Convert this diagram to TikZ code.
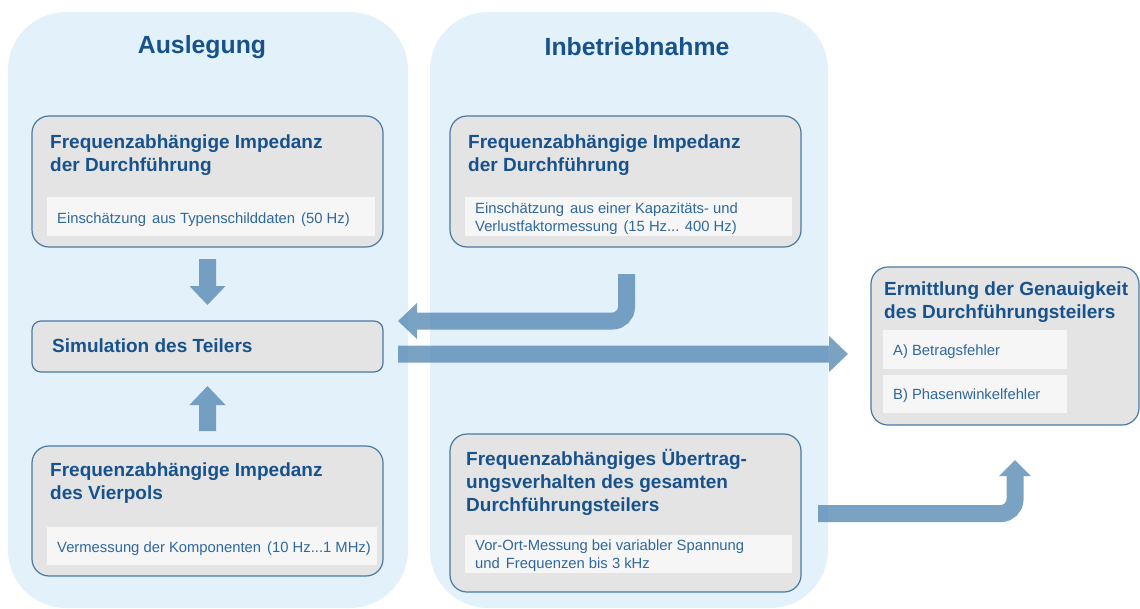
\documentclass[tikz,border=0pt]{standalone}
\usepackage{fontspec}
\setmainfont{Liberation Sans}
\usetikzlibrary{arrows.meta}
\definecolor{panel}{RGB}{227,241,250}
\definecolor{boxgray}{RGB}{228,228,228}
\definecolor{innergray}{RGB}{246,246,246}
\definecolor{boxline}{RGB}{72,121,165}
\definecolor{titleblue}{RGB}{24,82,140}
\definecolor{textblue}{RGB}{46,104,158}
\definecolor{arrowblue}{RGB}{92,142,182}
\newcommand{\wsp}{\hspace{6pt}}
\begin{document}
\begin{tikzpicture}[x=1pt,y=-1pt,
  panelbox/.style={fill=panel, draw=none, rounded corners=58pt, inner sep=0pt, outer sep=0pt},
  bigbox/.style={fill=boxgray, draw=boxline, line width=1.2pt, rounded corners=17pt, inner sep=0pt, outer sep=0pt},
  simbox/.style={bigbox, rounded corners=9pt},
  innerbox/.style={fill=innergray, draw=none, inner sep=0pt, outer sep=0pt},
  ttl/.style={font=\fontsize{19}{23}\selectfont\bfseries, text=titleblue, anchor=base west, align=left, inner sep=0pt},
  txt/.style={font=\fontsize{14.8}{18}\selectfont, text=textblue, anchor=base west, align=left, inner sep=0pt},
  head/.style={font=\fontsize{24.8}{28}\selectfont\bfseries, text=titleblue, inner sep=0pt},
  fat/.style={draw=arrowblue, line width=17pt, line cap=butt, rounded corners=14pt, -{Triangle[length=19pt,width=35pt]}},
]
\useasboundingbox (0,0) rectangle (1140,608);

% panels
\node[panelbox, minimum width=400pt, minimum height=596pt] (pL) at (208,310) {};
\node[panelbox, minimum width=398pt, minimum height=596pt] (pM) at (629,310) {};
\node[head] (hL) at (202,47) {Auslegung};
\node[head] (hM) at (637,47) {Inbetriebnahme};

% big boxes
\node[bigbox, minimum width=351pt, minimum height=131pt] (b1) at (207.5,181.5) {};
\node[simbox, minimum width=351pt, minimum height=51pt] (sim) at (207.5,346.5) {};
\node[bigbox, minimum width=351pt, minimum height=130pt] (b3) at (207.5,511) {};
\node[bigbox, minimum width=351pt, minimum height=131pt] (b2) at (625.5,181.5) {};
\node[bigbox, minimum width=351pt, minimum height=158pt] (b4) at (625.5,513) {};
\node[bigbox, minimum width=268pt, minimum height=158pt] (br) at (1005,346) {};

% inner boxes
\node[innerbox, minimum width=328pt, minimum height=39pt] (i1) at (211,216.5) {};
\node[innerbox, minimum width=327pt, minimum height=39pt] (i2) at (628.5,216.5) {};
\node[innerbox, minimum width=330pt, minimum height=38pt] (i3) at (212,546) {};
\node[innerbox, minimum width=327pt, minimum height=38pt] (i4) at (628.5,554) {};
\node[innerbox, minimum width=184pt, minimum height=39pt] (iA) at (975,349.5) {};
\node[innerbox, minimum width=184pt, minimum height=38pt] (iB) at (975,394) {};

% titles (multi-line nodes: base = last line)
\node[ttl] (t1) at (50,171) {Frequenzabhängige Impedanz\\der Durchführung};
\node[ttl] (tsim) at (52,352) {Simulation des Teilers};
\node[ttl] (t3) at (50,499) {Frequenzabhängige Impedanz\\des Vierpols};
\node[ttl] (t2) at (468,171) {Frequenzabhängige Impedanz\\der Durchführung};
\node[ttl] (t4) at (466,511) {Frequenzabhängiges Übertrag-\\ungsverhalten des gesamten\\Durchführungsteilers};
\node[ttl] (tr) at (884,318) {Ermittlung der Genauigkeit\\des Durchführungsteilers};

% inner texts
\node[txt] (x1) at (57,223) {Einschätzung\wsp aus Typenschilddaten\wsp (50 Hz)};
\node[txt] (x2) at (475,231) {Einschätzung\wsp aus einer Kapazitäts- und\\Verlustfaktormessung\wsp (15 Hz... 400 Hz)};
\node[txt] (x3) at (57,552) {Vermessung der Komponenten\wsp (10 Hz...1 MHz)};
\node[txt] (x4) at (475,568) {Vor-Ort-Messung bei variabler Spannung\\und\wsp Frequenzen bis 3 kHz};
\node[txt] (xA) at (893,355) {A) Betragsfehler};
\node[txt] (xB) at (893,399) {B) Phasenwinkelfehler};

% arrows (semi-transparent)
\begin{scope}[transparency group, opacity=0.82]
\draw[fat, shorten <=12pt, shorten >=16pt] (b1.south) -- (sim.north);
\draw[fat, shorten <=15pt, shorten >=14pt] (b3.north) -- (sim.south);
\coordinate (a3s) at ([xshift=1pt,yshift=-27pt]b2.south);
\coordinate (a3e) at ([xshift=15pt,yshift=25.5pt]sim.east);
\draw[fat] (a3s) |- (a3e);
\coordinate (a4s) at ([xshift=15pt,yshift=-7.5pt]sim.east);
\coordinate (a4e) at ([xshift=-23pt,yshift=-8pt]br.west);
\draw[fat] (a4s) -- (a4e);
\coordinate (a5s) at ([xshift=17pt,yshift=-0.5pt]b4.east);
\coordinate (a5e) at ([xshift=10pt,yshift=-35pt]br.south);
\draw[fat, -{Triangle[length=16pt,width=31pt]}] (a5s) -| (a5e);
\end{scope}
\end{tikzpicture}
\end{document}
